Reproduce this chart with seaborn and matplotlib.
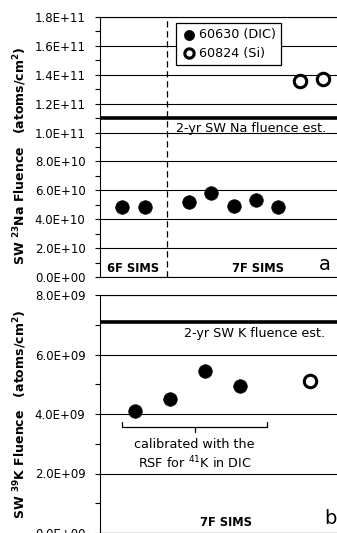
import numpy as np
import pandas as pd
import seaborn as sns
from matplotlib import pyplot as plt
from matplotlib.ticker import FuncFormatter, MultipleLocator

# panel a: SW 23Na fluence
na_dic_x = [1, 2, 4, 5, 6, 7, 8]
na_dic = [4.85e10, 4.85e10, 5.2e10, 5.85e10, 4.9e10, 5.35e10, 4.85e10]
na_si_x = [9, 10]
na_si = [1.36e11, 1.37e11]
na_est = 1.1e11
na_split = 3

# panel b: SW 39K fluence
k_dic_x = [1, 2, 3, 4]
k_dic = [4.1e9, 4.5e9, 5.45e9, 4.95e9]
k_si_x = [6]
k_si = [5.1e9]
k_est = 7.1e9

sns.set_style("white")
plt.rcParams["font.family"] = ["DejaVu Sans"]
plt.rcParams["mathtext.fontset"] = "dejavusans"
plt.rcParams["text.color"] = "black"
plt.rcParams["axes.labelcolor"] = "black"
plt.rcParams["ytick.color"] = "black"

fmt = FuncFormatter(lambda v, p: f"{v:.1E}")

fig = plt.figure(figsize=(3.37, 5.33), dpi=100)
ax1 = fig.add_axes([100 / 337, 256 / 533, 245 / 337, 260 / 533])
ax2 = fig.add_axes([100 / 337, 0, 245 / 337, 238 / 533])


def style_axis(ax, ymax, major, minor):
    ax.set_ylim(0, ymax)
    ax.yaxis.set_major_locator(MultipleLocator(major))
    ax.yaxis.set_minor_locator(MultipleLocator(minor))
    ax.yaxis.set_major_formatter(fmt)
    ax.tick_params(axis="y", which="both", direction="out", left=True,
                   length=3.5, width=0.8, color="black", labelsize=8.5,
                   labelcolor="black", pad=7)
    ax.tick_params(axis="x", bottom=False, labelbottom=False)
    ax.grid(axis="y", which="major", color="black", lw=0.8)
    ax.set_axisbelow(True)
    for s in ["left", "top", "bottom"]:
        ax.spines[s].set_color("black")
        ax.spines[s].set_linewidth(0.8)
    ax.spines["right"].set_visible(False)
    ax.set_xlabel("")


# ---- panel a ----
ax1.set_xlim(0, 11)
style_axis(ax1, 1.8e11, 2e10, 1e10)
ax1.axvline(na_split, color="black", lw=0.9, ls=(0, (5, 3)))
ax1.axhline(na_est, color="black", lw=2.6)
sns.scatterplot(x=na_dic_x, y=na_dic, ax=ax1, color="black", s=95,
                edgecolor="black", linewidth=0.5, zorder=5,
                label="60630 (DIC)")
sns.scatterplot(x=na_si_x, y=na_si, ax=ax1, facecolor="white", s=80,
                edgecolor="black", linewidth=2.2, zorder=5,
                label="60824 (Si)")
leg = ax1.legend(loc="upper left", bbox_to_anchor=(0.312, 0.977),
                 borderaxespad=0, fontsize=9.2, frameon=True, fancybox=False,
                 edgecolor="black", framealpha=1, handlelength=1.2,
                 handletextpad=0.15, borderpad=0.4, labelspacing=0.45,
                 markerscale=0.75)
leg.get_frame().set_linewidth(0.9)
ax1.text(3.4, 1.03e11, "2-yr SW Na fluence est.", fontsize=9.2,
         ha="left", va="center")
ax1.text(1.5, 6.2e9, "6F SIMS", fontsize=8.3, fontweight="bold",
         ha="center", va="center")
ax1.text(7.1, 6.2e9, "7F SIMS", fontsize=8.3, fontweight="bold",
         ha="center", va="center")
ax1.text(10.1, 9e9, "a", fontsize=14, ha="center", va="center")
ax1.set_ylabel(r"SW $^{\mathbf{23}}$Na Fluence   (atoms/cm$^{\mathbf{2}}$)",
               fontsize=9, fontweight="bold")
ax1.yaxis.set_label_coords(-0.29, 0.465)

# ---- panel b ----
ax2.set_xlim(0, 7)
style_axis(ax2, 8e9, 2e9, 1e9)
ax2.axhline(k_est, color="black", lw=2.6)
sns.scatterplot(x=k_dic_x, y=k_dic, ax=ax2, color="black", s=95,
                edgecolor="black", linewidth=0.5, zorder=5, legend=False)
sns.scatterplot(x=k_si_x, y=k_si, ax=ax2, facecolor="white", s=80,
                edgecolor="black", linewidth=2.2, zorder=5, legend=False)
ax2.text(4.41, 6.72e9, "2-yr SW K fluence est.", fontsize=9.2,
         ha="center", va="center")
# bracket under calibrated points
bx0, bx1, bmid = 0.63, 4.77, 2.7
ax2.plot([bx0, bx0, bx1, bx1], [3.73e9, 3.56e9, 3.56e9, 3.73e9],
         color="black", lw=0.9)
ax2.plot([bmid, bmid], [3.56e9, 3.38e9], color="black", lw=0.9)
ax2.text(bmid, 2.96e9, "calibrated with the", fontsize=9.2,
         ha="center", va="center")
ax2.text(bmid, 2.36e9, r"RSF for $^{41}$K in DIC", fontsize=9.2,
         ha="center", va="center")
ax2.text(3.6, 0.34e9, "7F SIMS", fontsize=8.3, fontweight="bold",
         ha="center", va="center")
ax2.text(6.57, 0.5e9, "b", fontsize=14, ha="center", va="center")
ax2.set_ylabel(r"SW $^{\mathbf{39}}$K Fluence   (atoms/cm$^{\mathbf{2}}$)",
               fontsize=9, fontweight="bold")
ax2.yaxis.set_label_coords(-0.29, 0.5)

fig.savefig("out.png", dpi=100)
plt.close(fig)
